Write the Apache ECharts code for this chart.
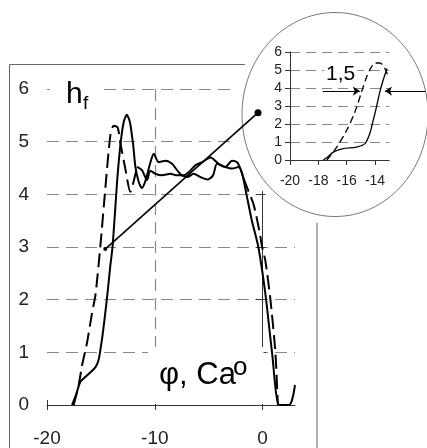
<!DOCTYPE html>
<html><head><meta charset="utf-8">
<script src="https://cdn.jsdelivr.net/npm/echarts@6/dist/echarts.min.js"></script>
<style>html,body{margin:0;padding:0;background:#fff}#c{width:427px;height:448px}</style>
</head><body><div id="c"></div>
<script>
// ---- data ----
const mainXRange = [-20, 3];
const mainXTicks = [-20, -10, 0];
const mainYRange = [0, 6];
const mainYTicks = [0, 1, 2, 3, 4, 5, 6];
const insetXRange = [-20, -13];
const insetXTicks = [-20, -18, -16, -14];
const insetYRange = [0, 6];
const insetYTicks = [0, 1, 2, 3, 4, 5, 6];

const solidMain = [[-17.68,0],[-17.3,0.2],[-16.9,0.44],[-16.3,0.56],[-15.5,0.72],[-15.2,0.87],[-14.9,1.25],[-14.6,1.74],[-14.4,2.1],[-14.15,2.6],[-13.9,3.05],[-13.5,4.24],[-13.2,4.92],[-12.9,5.36],[-12.6,5.51],[-12.3,5.36],[-12.0,4.92],[-11.8,4.52],[-11.5,4.24],[-11.2,4.12],[-10.85,4.27],[-10.42,4.6],[-10.1,4.77],[-9.65,4.61],[-9.0,4.64],[-8.4,4.58],[-7.9,4.45],[-7.5,4.36],[-6.95,4.33],[-6.4,4.39],[-5.8,4.33],[-5.1,4.28],[-4.6,4.36],[-4.23,4.58],[-3.45,4.52],[-2.83,4.49],[-2.22,4.52],[-1.9,4.39],[-1.5,4.0],[-1.0,3.5],[-0.4,3.0],[0.26,2.1],[0.87,1.0],[1.55,0],[2.45,0],[2.65,0.05],[2.85,0.2],[3.0,0.38]];
const dashedMainA = [[-17.53,0],[-17.07,0.37],[-16.75,0.75],[-16.29,1.18],[-15.83,1.74],[-15.5,2.1],[-15.05,3.02],[-14.59,4.11],[-14.13,5.11],[-13.82,5.3],[-13.45,5.27],[-13.2,4.98],[-12.74,4.49],[-12.27,4.05],[-11.97,4.24],[-11.65,4.52]];
const dashedMainB = [[-11.65,4.52],[-11.19,4.46],[-10.72,4.27],[-10.42,4.45],[-9.95,4.39],[-9.33,4.36],[-8.56,4.39],[-7.94,4.36],[-7.33,4.36],[-6.86,4.42],[-6.24,4.55],[-5.62,4.61],[-4.84,4.7],[-4.08,4.58],[-3.46,4.52],[-2.84,4.64],[-2.37,4.61],[-2.07,4.49],[-1.76,4.3]];
const dashedMainC = [[-1.76,4.3],[-1.3,4.05],[-0.83,3.8],[-0.3,3.3],[-0.05,3.0],[0.25,2.74],[0.72,2.0],[1.18,1.0],[1.4,0.06],[1.42,0]];
const connector = [[-14.6,2.96],[-0.43,5.55]];

const solidInset = [[-17.65,0],[-17.3,0.2],[-16.95,0.44],[-16.25,0.63],[-15.3,0.72],[-14.72,0.91],[-14.37,1.47],[-14.13,2.2],[-13.9,2.94],[-13.66,3.78],[-13.43,4.43],[-13.15,5.08]];
const dashedInset = [[-17.4,0],[-16.7,0.72],[-16.0,1.65],[-15.42,2.67],[-14.95,3.78],[-14.6,4.6],[-14.25,5.17],[-14.0,5.39],[-13.66,5.39],[-13.3,5.08],[-13.1,4.7]];
const arrowLevel = 3.83;
const arrowLeft = [-17.68, -15.07];
const arrowRight = [-10.45, -13.3];
const widthLabel = '1,5';

const F = '"Liberation Sans", Arial, sans-serif';
const AX = '#333', GR = '#888';

function valAxis(grid, rng, ticks, extra) {
  return Object.assign({type:'value', gridIndex:grid, min:rng[0], max:rng[1],
    interval: ticks[1]-ticks[0]}, extra);
}

const chart = echarts.init(document.getElementById('c'), null, {renderer:'canvas'});
const option = {
  animation:false,
  backgroundColor:'#fff',
  grid:[{left:47, top:89, width:248, height:321},{left:290, top:52, width:99.2, height:108}],
  xAxis:[
    valAxis(0, mainXRange, mainXTicks, {position:'bottom', z:1,
      axisLine:{lineStyle:{color:AX,width:1}},
      axisTick:{length:5,customValues:mainXTicks,lineStyle:{color:AX}},
      axisLabel:{fontSize:19,fontFamily:F,color:'#222',margin:24,customValues:mainXTicks},
      splitLine:{show:true,showMinLine:false,showMaxLine:false,lineStyle:{color:GR,type:[12,7],width:1.2}}}),
    valAxis(1, insetXRange, insetXTicks, {position:'bottom', z:20,
      axisLine:{lineStyle:{color:AX,width:1}},
      axisTick:{length:5,customValues:insetXTicks,lineStyle:{color:AX}},
      axisLabel:{fontSize:14,fontFamily:F,color:'#222',margin:14,customValues:insetXTicks},
      splitLine:{show:false}}),
    valAxis(0, mainXRange, mainXTicks, {position:'bottom', z:1,
      axisLine:{show:false},
      axisTick:{inside:true,length:5,customValues:mainXTicks,lineStyle:{color:AX}},
      axisLabel:{show:false}, splitLine:{show:false}})
  ],
  yAxis:[
    valAxis(0, mainYRange, mainYTicks, {position:'left', z:1,
      axisLine:{show:true,lineStyle:{color:AX,width:1}},
      axisTick:{show:true,length:7,lineStyle:{color:AX}},
      axisLabel:{fontSize:19,fontFamily:F,color:'#222',margin:18},
      splitLine:{show:true,showMinLine:false,lineStyle:{color:GR,type:[12,7],width:1.2}}}),
    valAxis(1, insetYRange, insetYTicks, {position:'left', z:20,
      axisLine:{show:true,lineStyle:{color:AX,width:1}},
      axisTick:{show:true,length:5,lineStyle:{color:AX}},
      axisLabel:{fontSize:14,fontFamily:F,color:'#222',margin:8},
      splitLine:{show:true,showMinLine:false,lineStyle:{color:GR,type:[10,6],width:1.1}}}),
    valAxis(0, mainYRange, mainYTicks, {position:'left', z:1,
      axisLine:{show:false},
      axisTick:{show:true,inside:true,length:3,lineStyle:{color:AX}},
      axisLabel:{show:false}, splitLine:{show:false}})
  ],
  series:[
    {type:'line', xAxisIndex:0, yAxisIndex:0, data:solidMain, smooth:0.25, symbol:'none', z:3,
      lineStyle:{color:'#000',width:2}},
    {type:'line', xAxisIndex:0, yAxisIndex:0, data:dashedMainA, smooth:0.25, symbol:'none', z:3,
      lineStyle:{color:'#000',width:2,type:[14,6]}},
    {type:'line', xAxisIndex:0, yAxisIndex:0, data:dashedMainB, smooth:0.25, symbol:'none', z:3,
      lineStyle:{color:'#000',width:2}},
    {type:'line', xAxisIndex:0, yAxisIndex:0, data:dashedMainC, smooth:0.25, symbol:'none', z:3,
      lineStyle:{color:'#000',width:2,type:[14,6]}},
    {type:'line', xAxisIndex:1, yAxisIndex:1, data:solidInset, smooth:0.3, symbol:'none', z:21, clip:false,
      lineStyle:{color:'#000',width:1.3}},
    {type:'line', xAxisIndex:1, yAxisIndex:1, data:dashedInset, smooth:0.3, symbol:'none', z:21, clip:false,
      lineStyle:{color:'#000',width:1.3,type:[7,4]}},
    {type:'lines', coordinateSystem:'cartesian2d', xAxisIndex:1, yAxisIndex:1, clip:false, z:22,
      symbol:['none','arrow'], symbolSize:7,
      lineStyle:{color:'#000',width:1.2,opacity:1,curveness:0},
      data:[{coords:[[arrowLeft[0],arrowLevel],[arrowLeft[1],arrowLevel]]},
            {coords:[[arrowRight[0],arrowLevel],[arrowRight[1],arrowLevel]]}]},
    {type:'line', xAxisIndex:0, yAxisIndex:0, data:connector, z:30, clip:false,
      symbol:'circle', symbolSize:function(v,p){return p.dataIndex===0?4:7;}, showSymbol:true,
      itemStyle:{color:'#000'}, lineStyle:{color:'#000',width:1.6}}
  ],
  graphic:[
    {type:'rect', shape:{x:9.5,y:64.5,width:307.5,height:400}, style:{fill:'none',stroke:'#666',lineWidth:1}, z:0},
    {type:'rect', shape:{x:50,y:78,width:50,height:40}, style:{fill:'#fff'}, z:5},
    {type:'text', x:66, y:94.5, style:{text:'h', font:'30px '+F, fill:'#000', verticalAlign:'middle'}, z:6},
    {type:'text', x:83, y:104, style:{text:'f', font:'19px '+F, fill:'#000', verticalAlign:'middle'}, z:6},
    {type:'rect', shape:{x:148,y:347,width:115.5,height:57}, style:{fill:'#fff'}, z:5},
    {type:'text', x:159, y:375, style:{text:'φ, Ca', font:'31px '+F, fill:'#000', verticalAlign:'middle'}, z:6},
    {type:'text', x:233, y:367.5, style:{text:'o', font:'26px '+F, fill:'#000', verticalAlign:'middle'}, z:6},
    {type:'ellipse', shape:{cx:335,cy:114.5,rx:101,ry:110}, style:{fill:'#fff'}, z:10},
    {type:'ellipse', shape:{cx:335,cy:114.5,rx:93,ry:102}, style:{fill:'none',stroke:'#777',lineWidth:1}, z:11},
    {type:'text', x:324, y:74.3, style:{text:widthLabel, font:'21px '+F, fill:'#000', verticalAlign:'middle', backgroundColor:'#fff', padding:[0,2]}, z:25}
  ]
};
chart.setOption(option);
</script></body></html>
